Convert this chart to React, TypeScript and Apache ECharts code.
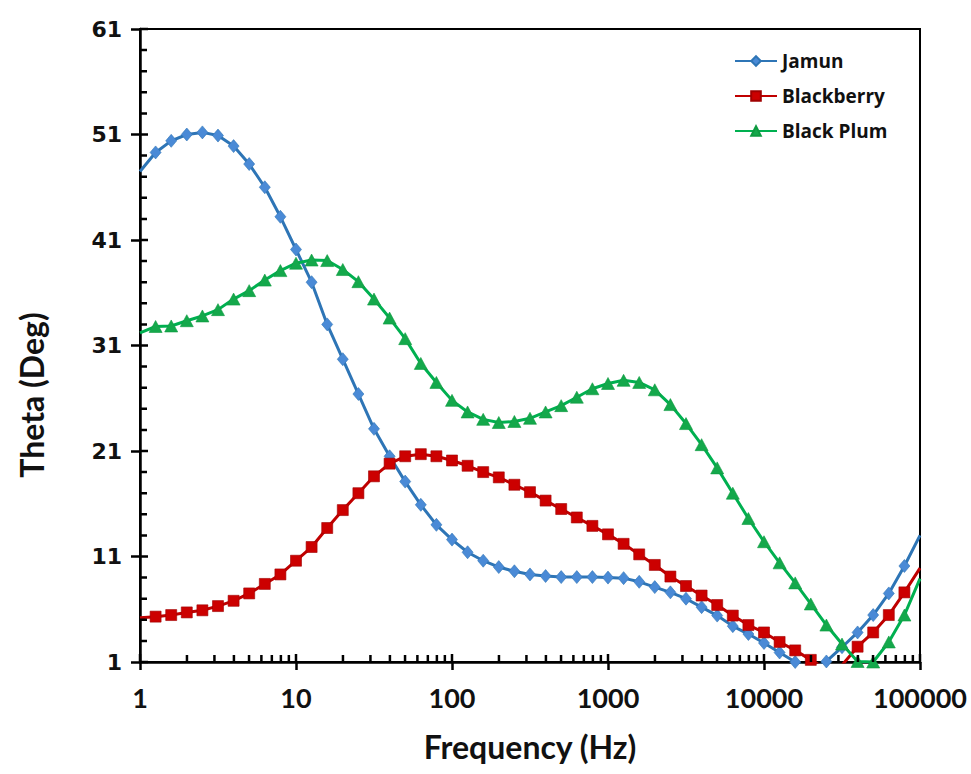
import React, { useEffect, useRef } from "react";
import * as echarts from "echarts";

// Frequency (Hz), 10 points per decade
const freq = [
  1, 1.259, 1.585, 1.995, 2.512, 3.162, 3.981, 5.012, 6.31, 7.943,
  10, 12.59, 15.85, 19.95, 25.12, 31.62, 39.81, 50.12, 63.1, 79.43,
  100, 125.9, 158.5, 199.5, 251.2, 316.2, 398.1, 501.2, 631, 794.3,
  1000, 1259, 1585, 1995, 2512, 3162, 3981, 5012, 6310, 7943,
  10000, 12589, 15849, 19953, 25119, 31623, 39811, 50119, 63096, 79433,
  100000,
];

const jamun = [
  47.5, 49.3, 50.4, 51.0, 51.2, 50.9, 49.9, 48.2, 46.0, 43.2,
  40.1, 37.0, 33.0, 29.7, 26.4, 23.1, 20.5, 18.1, 15.9, 14.0,
  12.6, 11.4, 10.6, 10.0, 9.6, 9.3, 9.15, 9.05, 9.05, 9.05,
  9.0, 8.95, 8.6, 8.1, 7.6, 7.0, 6.2, 5.4, 4.4, 3.65,
  2.8, 1.9, 1.0, 0.3, 1.05, 2.4, 3.8, 5.45, 7.5, 10.1,
  13.0,
];

const blackberry = [
  5.2, 5.3, 5.45, 5.7, 5.9, 6.3, 6.8, 7.5, 8.4, 9.3,
  10.6, 11.9, 13.7, 15.4, 17.0, 18.6, 19.8, 20.5, 20.7, 20.5,
  20.1, 19.6, 19.0, 18.5, 17.8, 17.1, 16.3, 15.5, 14.7, 13.9,
  13.1, 12.2, 11.2, 10.2, 9.1, 8.2, 7.3, 6.4, 5.4, 4.5,
  3.8, 2.9, 2.1, 1.2, 0.3, 0.7, 2.45, 3.8, 5.45, 7.6,
  9.9,
];

const blackPlum = [
  32.2, 32.8, 32.85, 33.35, 33.8, 34.4, 35.4, 36.2, 37.2, 38.1,
  38.8, 39.1, 39.05, 38.2, 37.05, 35.4, 33.6, 31.65, 29.3, 27.5,
  25.8, 24.7, 24.0, 23.7, 23.8, 24.1, 24.7, 25.3, 26.1, 26.9,
  27.4, 27.7, 27.5, 26.8, 25.4, 23.6, 21.6, 19.4, 17.0, 14.6,
  12.4, 10.4, 8.5, 6.5, 4.5, 2.7, 1.05, 1.0, 2.9, 5.45,
  8.9,
];

const seriesNames = ["Jamun", "Blackberry", "Black Plum"];
const xMin = 1;
const xMax = 100000;
const yMin = 1;
const yMax = 61;
const yInterval = 10;
const yMinorStep = 2;

function toData(values: number[]) {
  return values.map((v, i) => {
    const item: any = { value: [freq[i], v] };
    if (i === 0 || i === values.length - 1) item.symbol = "none";
    return item;
  });
}

// inward tick marks drawn as short segments in axis units
function tickSegments(): any[] {
  const out: any[] = [];
  const pxPerY = 633 / (yMax - yMin);
  const pxPerDecade = 780 / 5;
  // x axis: 1..9 of each decade
  for (let d = 1; d <= xMax; d *= 10) {
    for (let m = 1; m <= 9; m++) {
      const v = m * d;
      if (v > xMax) break;
      const len = m === 1 ? 8 : 7;
      out.push([v, yMin]);
      out.push([v, yMin + len / pxPerY]);
      out.push([v, null]);
    }
  }
  // y axis: every 2 units, majors every 10
  for (let y = yMin; y <= yMax; y += yMinorStep) {
    const len = (y - yMin) % yInterval === 0 ? 8 : 7;
    const x2 = Math.pow(10, len / pxPerDecade);
    out.push([xMin, y]);
    out.push([x2, y]);
    out.push([x2, null]);
  }
  return out;
}

export default function App() {
  const ref = useRef<HTMLDivElement>(null);

  useEffect(() => {
    document.body.style.margin = "0";
    if (!ref.current) return;
    const chart = echarts.init(ref.current, undefined, { renderer: "svg" });

    const option: any = {
      animation: false,
      backgroundColor: "#ffffff",
      grid: {
        left: 140,
        right: 51,
        top: 29,
        bottom: 112,
        show: true,
        borderColor: "#000",
        borderWidth: 2,
        containLabel: false,
        outerBoundsMode: "none",
      },
      legend: {
        data: seriesNames,
        orient: "vertical",
        left: 729,
        top: 45,
        itemWidth: 42,
        itemHeight: 12,
        itemGap: 13,
        textStyle: {
          fontFamily: "Open Sans",
          fontWeight: "bold",
          fontSize: 19,
          color: "#111",
          lineHeight: 22,
        },
      },
      graphic: [
        {
          type: "text",
          x: 31,
          y: 395,
          rotation: Math.PI / 2,
          style: {
            text: "Theta (Deg)",
            font: "bold 32px Lato",
            fill: "#111",
            textAlign: "center",
            textVerticalAlign: "middle",
          },
        },
      ],
      xAxis: [
        {
          type: "log",
          logBase: 10,
          min: xMin,
          max: xMax,
          name: "Frequency (Hz)",
          nameLocation: "middle",
          nameGap: 68,
          nameTextStyle: {
            fontFamily: "Lato",
            fontWeight: "bold",
            fontSize: 32,
            color: "#111",
          },
          axisLine: { show: true, lineStyle: { color: "#000", width: 2.5 } },
          axisTick: { show: true, inside: false, length: 8, lineStyle: { color: "#000", width: 2.5 } },
          minorTick: { show: false },
          splitLine: { show: false },
          axisLabel: {
            margin: 22,
            fontFamily: "Lato",
            fontWeight: "bold",
            fontSize: 27,
            color: "#111",
            formatter: (v: number) => String(Math.round(v)),
          },
        },
      ],
      yAxis: [
        {
          type: "value",
          min: yMin,
          max: yMax,
          interval: yInterval,
          axisLine: { show: true, lineStyle: { color: "#000", width: 2.5 } },
          axisTick: { show: true, inside: false, length: 9, lineStyle: { color: "#000", width: 2.5 } },
          splitLine: { show: false },
          axisLabel: {
            margin: 18,
            fontFamily: "DejaVu Sans",
            fontWeight: "bold",
            fontSize: 22,
            color: "#111",
          },
        },
      ],
      series: [
        {
          name: "axisTicks",
          type: "line",
          silent: true,
          z: 4,
          symbol: "none",
          connectNulls: false,
          clip: false,
          data: tickSegments(),
          lineStyle: { color: "#000", width: 2.5 },
          emphasis: { disabled: true },
        },
        {
          name: "Jamun",
          type: "line",
          data: toData(jamun),
          symbol: "diamond",
          symbolSize: [11, 13],
          clip: true,
          z: 3,
          lineStyle: { color: "#2E75B6", width: 3 },
          itemStyle: { color: "#4A8AD6", borderColor: "#2E75B6", borderWidth: 0.6 },
        },
        {
          name: "Blackberry",
          type: "line",
          data: toData(blackberry),
          symbol: "rect",
          symbolSize: 11,
          clip: true,
          z: 3,
          lineStyle: { color: "#C00000", width: 3 },
          itemStyle: { color: "#CC0000", borderColor: "#A00000", borderWidth: 0.6 },
        },
        {
          name: "Black Plum",
          type: "line",
          data: toData(blackPlum),
          symbol: "triangle",
          symbolSize: [13, 12],
          clip: true,
          z: 3,
          lineStyle: { color: "#00B050", width: 3 },
          itemStyle: { color: "#14A84B", borderColor: "#0E9A40", borderWidth: 0.6 },
        },
      ],
    };

    chart.setOption(option);
    return () => chart.dispose();
  }, []);

  return <div ref={ref} style={{ width: 971, height: 774 }} />;
}
